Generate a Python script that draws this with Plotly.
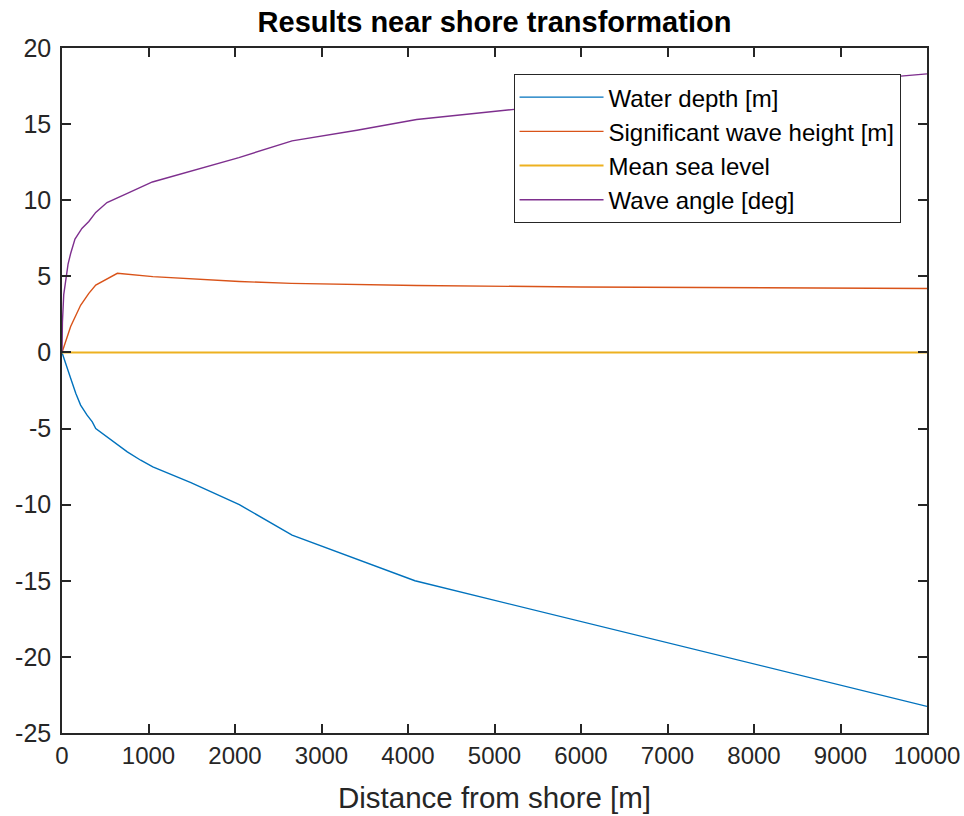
import plotly.graph_objects as go

# ---- data ----
depth_x = [0, 40, 100, 160, 215, 290, 350, 390, 560, 755, 910, 1050, 1490, 2050, 2660, 4080, 10000]
depth_y = [0, -0.72, -1.7, -2.69, -3.46, -4.12, -4.56, -5.0, -5.72, -6.53, -7.08, -7.52, -8.55, -10.0, -12.0, -15.0, -23.25]

hs_x = [0, 100, 215, 310, 390, 640, 1050, 2050, 2650, 4100, 6000, 8000, 10000]
hs_y = [0, 1.7, 3.1, 3.88, 4.43, 5.2, 4.98, 4.66, 4.54, 4.4, 4.3, 4.24, 4.2]

msl_x = [0, 10000]
msl_y = [0, 0]

ang_x = [0, 5, 20, 40, 70, 100, 150, 230, 310, 390, 520, 755, 910, 1045, 2045, 2660, 3410, 4100, 5230, 8000, 10000]
ang_y = [0, 2.0, 3.8, 4.75, 5.8, 6.5, 7.45, 8.15, 8.6, 9.2, 9.85, 10.45, 10.84, 11.2, 12.8, 13.9, 14.6, 15.3, 15.97, 17.33, 18.3]

names = ["Water depth [m]", "Significant wave height [m]", "Mean sea level", "Wave angle [deg]"]
colors = ["#0072BD", "#D95319", "#EDB120", "#7E2F8E"]
widths = [1.4, 1.4, 2.0, 1.4]

x_ticks = list(range(0, 10001, 1000))
y_ticks = list(range(-25, 21, 5))

FONT = "Liberation Sans, Arial, sans-serif"
AX = "#262626"

fig = go.Figure()
series = [(depth_x, depth_y), (hs_x, hs_y), (msl_x, msl_y), (ang_x, ang_y)]
for (xs, ys), nm, c, w in zip(series, names, colors, widths):
    fig.add_trace(go.Scatter(x=xs, y=ys, mode="lines", name=nm,
                             line=dict(color=c, width=w)))

fig.update_layout(
    width=964, height=816,
    paper_bgcolor="white", plot_bgcolor="white",
    margin=dict(l=61.5, r=37.3, t=48, b=83.2, autoexpand=False),
    font=dict(family=FONT, size=24, color=AX),
    title=dict(text="<b>Results near shore transformation</b>", x=0.5, xref="paper",
               y=1 - 22 / 816, yref="container", yanchor="middle",
               font=dict(family=FONT, size=29, color="black")),
    showlegend=True,
    legend=dict(x=0.522, y=0.962, xanchor="left", yanchor="top",
                bgcolor="white", bordercolor=AX, borderwidth=1,
                font=dict(family=FONT, size=24, color="black"),
                itemwidth=84, tracegroupgap=0),
)
fig.update_xaxes(range=[0, 10000], tickvals=x_ticks, ticktext=[str(v) for v in x_ticks],
                 showgrid=False, zeroline=False, showline=True, linecolor=AX, linewidth=1.5,
                 mirror="ticks", ticks="inside", ticklen=9, tickwidth=1.5, tickcolor=AX,
                 tickfont=dict(size=24, color=AX), automargin=False,
                 title=dict(text="Distance from shore [m]", font=dict(size=29.5, color=AX), standoff=20))
fig.update_yaxes(range=[-25, 20], tickvals=y_ticks, ticktext=[str(v) for v in y_ticks],
                 showgrid=False, zeroline=False, showline=True, linecolor=AX, linewidth=1.5,
                 mirror="ticks", ticks="inside", ticklen=9, tickwidth=1.5, tickcolor=AX,
                 tickfont=dict(size=25, color=AX), automargin=False, ticklabelstandoff=4)

fig.write_html("out.html", config={"displayModeBar": False},
               post_script="document.body.style.margin='0';document.body.style.overflow='hidden';")
